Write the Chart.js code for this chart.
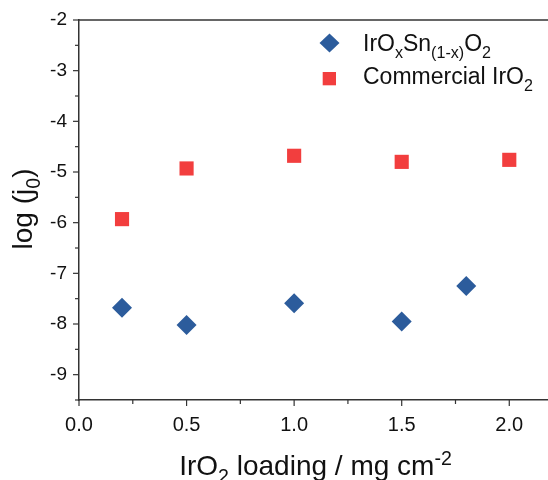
<!DOCTYPE html>
<html>
<head>
<meta charset="utf-8">
<script src="https://cdn.jsdelivr.net/npm/chart.js@4/dist/chart.umd.min.js"></script>
<style>
html, body { margin: 0; padding: 0; background: #fff; overflow: hidden; }
#chart { display: block; }
</style>
</head>
<body>
<canvas id="chart" width="548" height="480"></canvas>
<script>
// values
const loadingMixed = [0.2, 0.5, 1.0, 1.5, 1.8]
const logJ0Mixed = [-7.68, -8.02, -7.59, -7.95, -7.25]
const loadingCommercial = [0.2, 0.5, 1.0, 1.5, 2.0]
const logJ0Commercial = [-5.93, -4.93, -4.68, -4.80, -4.76]
const xTicks = [0.0, 0.5, 1.0, 1.5, 2.0]
const yTicks = [-9, -8, -7, -6, -5, -4, -3, -2]

// text pieces: [text, 0 normal | 1 sub | 2 sup]
const xTitle = [['IrO', 0], ['2', 1], [' loading / mg cm', 0], ['-2', 2]]
const yTitle = [['log (j', 0], ['0', 1], [')', 0]]
const mixedLabel = [['IrO', 0], ['x', 1], ['Sn', 0], ['(1-x)', 1], ['O', 0], ['2', 1]]
const commercialLabel = [['Commercial IrO', 0], ['2', 1]]

const blue = '#2c5c9c'
const red = '#f23e3e'
const axisColor = '#333'
const font = 'Liberation Sans, Arial, sans-serif'

function richWidth(ctx, parts, size) {
    let w = 0
    parts.forEach(p => {
        ctx.font = (p[1] ? size * 0.7 : size) + 'px ' + font
        w += ctx.measureText(p[0]).width
    })
    return w
}

function drawRich(ctx, parts, x, y, size, align) {
    let cx = align === 'center' ? x - richWidth(ctx, parts, size) / 2 : x
    ctx.textAlign = 'left'
    ctx.textBaseline = 'alphabetic'
    parts.forEach(p => {
        let dy = 0
        if (p[1] === 1) dy = size * 0.3
        if (p[1] === 2) dy = -size * 0.36
        ctx.font = (p[1] ? size * 0.7 : size) + 'px ' + font
        ctx.fillText(p[0], cx, y + dy)
        cx += ctx.measureText(p[0]).width
    })
}

const extras = {
    id: 'extras',
    afterDraw(chart) {
        const ctx = chart.ctx
        const area = chart.chartArea
        const xs = chart.scales.x
        const ys = chart.scales.y
        ctx.save()
        ctx.strokeStyle = axisColor
        ctx.lineWidth = 1.5
        // top frame line
        ctx.beginPath()
        ctx.moveTo(area.left, area.top)
        ctx.lineTo(area.right, area.top)
        ctx.stroke()
        // ticks, major and minor, pointing outwards
        ctx.lineWidth = 1.2
        for (let v = 0; v <= 2.0001; v += 0.25) {
            const px = xs.getPixelForValue(v)
            const major = Math.abs(v * 2 - Math.round(v * 2)) < 1e-6
            ctx.beginPath()
            ctx.moveTo(px, area.bottom)
            ctx.lineTo(px, area.bottom + (major ? 6 : 4))
            ctx.stroke()
        }
        for (let v = -9.5; v <= -2.0001 + 0.0002; v += 0.5) {
            const py = ys.getPixelForValue(v)
            const major = Math.abs(v - Math.round(v)) < 1e-6
            ctx.beginPath()
            ctx.moveTo(area.left, py)
            ctx.lineTo(area.left - (major ? 6 : 4), py)
            ctx.stroke()
        }
        ctx.fillStyle = '#111'
        // axis titles (centred on the full 0 - 2.2 frame, which runs past the edge)
        drawRich(ctx, xTitle, 315.5, 475, 28, 'center')
        ctx.save()
        ctx.translate(32, 209)
        ctx.rotate(-Math.PI / 2)
        drawRich(ctx, yTitle, 0, 0, 28, 'center')
        ctx.restore()
        // legend
        ctx.fillStyle = blue
        ctx.beginPath()
        ctx.moveTo(329.5, 33.5)
        ctx.lineTo(339.5, 43)
        ctx.lineTo(329.5, 52.5)
        ctx.lineTo(319.5, 43)
        ctx.closePath()
        ctx.fill()
        ctx.fillStyle = red
        ctx.fillRect(322.7, 72, 13.3, 13.3)
        ctx.fillStyle = '#111'
        drawRich(ctx, mixedLabel, 363, 51, 23, 'left')
        drawRich(ctx, commercialLabel, 363, 84, 23, 'left')
        ctx.restore()
    }
}

const ctx = document.getElementById('chart').getContext('2d')
const chart = new Chart(ctx, {
    type: 'scatter',
    data: {
        datasets: [{
            label: 'IrOxSn(1-x)O2',
            data: loadingMixed.map((x, i) => ({ x: x, y: logJ0Mixed[i] })),
            pointStyle: 'rectRot',
            pointRadius: 10,
            pointHoverRadius: 10,
            backgroundColor: blue,
            borderColor: blue,
            borderWidth: 0
        },
        {
            label: 'Commercial IrO2',
            data: loadingCommercial.map((x, i) => ({ x: x, y: logJ0Commercial[i] })),
            pointStyle: 'rect',
            pointRadius: 10,
            pointHoverRadius: 10,
            backgroundColor: red,
            borderColor: red,
            borderWidth: 0
        }]
    },
    options: {
        responsive: false,
        animation: false,
        events: [],
        layout: { autoPadding: false, padding: { top: 20, right: 0, left: 0, bottom: 0 } },
        plugins: {
            legend: { display: false },
            tooltip: { enabled: false }
        },
        scales: {
            x: {
                type: 'linear',
                min: 0,
                max: 2.18,
                afterBuildTicks: scale => { scale.ticks = xTicks.map(v => ({ value: v })) },
                afterFit: scale => {
                    scale.height = 80
                    scale.paddingLeft = 0
                    scale.paddingRight = 0
                },
                grid: { display: false, drawTicks: false },
                border: { display: true, color: axisColor, width: 1.5 },
                ticks: {
                    padding: 13,
                    color: '#111',
                    font: { family: font, size: 20 },
                    callback: v => Number(v).toFixed(1)
                }
            },
            y: {
                type: 'linear',
                min: -9.5,
                max: -2,
                afterBuildTicks: scale => { scale.ticks = yTicks.map(v => ({ value: v })) },
                afterFit: scale => {
                    scale.width = 79
                    scale.paddingTop = 0
                    scale.paddingBottom = 0
                },
                grid: { display: false, drawTicks: false },
                border: { display: true, color: axisColor, width: 1.5 },
                ticks: {
                    padding: 12,
                    color: '#111',
                    font: { family: font, size: 19 },
                    callback: v => String(v)
                }
            }
        }
    },
    plugins: [extras]
});
</script>
</body>
</html>
